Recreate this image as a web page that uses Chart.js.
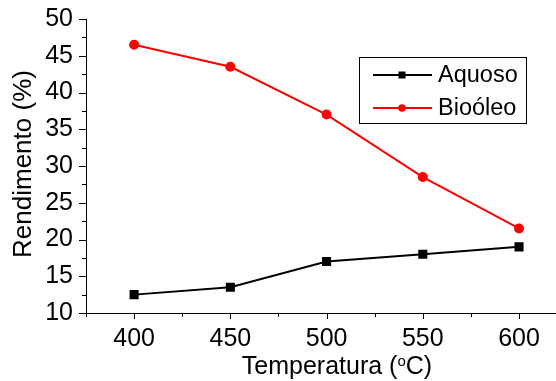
<!DOCTYPE html>
<html><head><meta charset="utf-8">
<script src="https://cdn.jsdelivr.net/npm/chart.js@4"></script>
<style>html,body{margin:0;padding:0;background:#fff;}#wrap{width:556px;height:381px;}</style>
</head><body><div id="wrap"><canvas id="c" width="556" height="381"></canvas></div>
<script>
const temperatures = [400, 450, 500, 550, 600];
const aquoso = [12.5, 13.5, 17, 18, 19];
const bioOleo = [46.5, 43.5, 37, 28.5, 21.5];
const seriesNames = ['Aquoso', 'Bioóleo'];
const xTickValues = [375, 400, 425, 450, 475, 500, 525, 550, 575, 600];
const yTickValues = [10, 12.5, 15, 17.5, 20, 22.5, 25, 27.5, 30, 32.5, 35, 37.5, 40, 42.5, 45, 47.5, 50];
const xTitle = ['Temperatura (', 'o', 'C)'];
const yTitle = 'Rendimento (%)';

const FONT = "'Liberation Sans', Arial, sans-serif";

const customDraw = {
  id: 'customDraw',
  afterDraw(chart) {
    const ctx = chart.ctx;
    const xs = chart.scales.x, ys = chart.scales.y;
    const area = chart.chartArea;
    ctx.save();
    ctx.strokeStyle = '#000';
    ctx.lineWidth = 1;
    xs.ticks.forEach(t => {
      const major = t.value % 50 === 0;
      const px = Math.round(xs.getPixelForValue(t.value)) + 0.5;
      ctx.beginPath();
      ctx.moveTo(px, area.bottom);
      ctx.lineTo(px, area.bottom + (major ? 6 : 4));
      ctx.stroke();
    });
    ys.ticks.forEach(t => {
      const major = t.value % 5 === 0;
      const py = Math.round(ys.getPixelForValue(t.value)) + 0.5;
      ctx.beginPath();
      ctx.moveTo(area.left, py);
      ctx.lineTo(area.left - (major ? 7 : 4), py);
      ctx.stroke();
    });
    ctx.fillStyle = '#000';
    ctx.font = '25px ' + FONT;
    ctx.textBaseline = 'alphabetic';
    const w1 = ctx.measureText(xTitle[0]).width;
    ctx.font = '15px ' + FONT;
    const w2 = ctx.measureText(xTitle[1]).width;
    ctx.font = '25px ' + FONT;
    const w3 = ctx.measureText(xTitle[2]).width;
    let x0 = 337 - (w1 + w2 + w3) / 2;
    ctx.textAlign = 'left';
    ctx.fillText(xTitle[0], x0, 374);
    ctx.font = '15px ' + FONT;
    ctx.fillText(xTitle[1], x0 + w1, 366);
    ctx.font = '25px ' + FONT;
    ctx.fillText(xTitle[2], x0 + w1 + w2, 374);

    ctx.save();
    ctx.translate(24, 164);
    ctx.rotate(-Math.PI / 2);
    ctx.textAlign = 'center';
    ctx.textBaseline = 'middle';
    ctx.font = '26px ' + FONT;
    ctx.fillText(yTitle, 0, 0);
    ctx.restore();

    ctx.lineWidth = 1;
    ctx.strokeStyle = '#000';
    ctx.strokeRect(359.5, 57.5, 167, 66);
    const rows = [75, 108];
    chart.data.datasets.forEach((ds, i) => {
      const y = rows[i];
      ctx.strokeStyle = ds.borderColor;
      ctx.lineWidth = 2;
      ctx.beginPath();
      ctx.moveTo(373, y);
      ctx.lineTo(432, y);
      ctx.stroke();
      ctx.fillStyle = ds.borderColor;
      if (ds.pointStyle === 'rect') {
        ctx.fillRect(402 - 3.5, y - 3.5, 7, 7);
      } else {
        ctx.beginPath();
        ctx.arc(402, y, 3.8, 0, Math.PI * 2);
        ctx.fill();
      }
      ctx.fillStyle = '#000';
      ctx.font = '23.5px ' + FONT;
      ctx.textAlign = 'left';
      ctx.textBaseline = 'middle';
      ctx.fillText(ds.label, 438, y + 1);
    });
    ctx.restore();
  }
};

new Chart(document.getElementById('c'), {
  type: 'line',
  data: {
    datasets: [
      {
        label: seriesNames[0],
        data: temperatures.map((t, i) => ({x: t, y: aquoso[i]})),
        borderColor: '#000000',
        backgroundColor: '#000000',
        borderWidth: 2,
        pointStyle: 'rect',
        pointRadius: 5,
        pointHoverRadius: 5,
        tension: 0
      },
      {
        label: seriesNames[1],
        data: temperatures.map((t, i) => ({x: t, y: bioOleo[i]})),
        borderColor: '#ff0000',
        backgroundColor: '#ff0000',
        borderWidth: 2,
        pointStyle: 'circle',
        pointRadius: 4,
        pointHoverRadius: 4,
        tension: 0
      }
    ]
  },
  options: {
    responsive: false,
    animation: false,
    events: [],
    layout: {autoPadding: false, padding: {top: 19, left: 0, right: 0, bottom: 0}},
    plugins: {legend: {display: false}, tooltip: {enabled: false}},
    scales: {
      x: {
        type: 'linear',
        min: 375,
        max: 619.2,
        grid: {display: false, drawTicks: false, tickLength: 0},
        border: {display: true, color: '#000', width: 1},
        afterBuildTicks: s => { s.ticks = xTickValues.map(v => ({value: v})); },
        ticks: {
          autoSkip: false,
          maxRotation: 0,
          padding: 11,
          color: '#000',
          font: {family: FONT, size: 25},
          callback: v => (v % 50 === 0 ? String(v) : '')
        },
        afterFit: s => { s.height = 68; s.paddingLeft = 0; s.paddingRight = 0; }
      },
      y: {
        min: 10,
        max: 50,
        grid: {display: false, drawTicks: false, tickLength: 0},
        border: {display: true, color: '#000', width: 1},
        afterBuildTicks: s => { s.ticks = yTickValues.map(v => ({value: v})); },
        ticks: {
          autoSkip: false,
          padding: 13,
          color: '#000',
          font: {family: FONT, size: 25},
          callback: v => (v % 5 === 0 ? String(v) : '')
        },
        afterFit: s => { s.width = 86; s.paddingTop = 0; s.paddingBottom = 0; }
      }
    }
  },
  plugins: [customDraw]
});
</script>
</body></html>
